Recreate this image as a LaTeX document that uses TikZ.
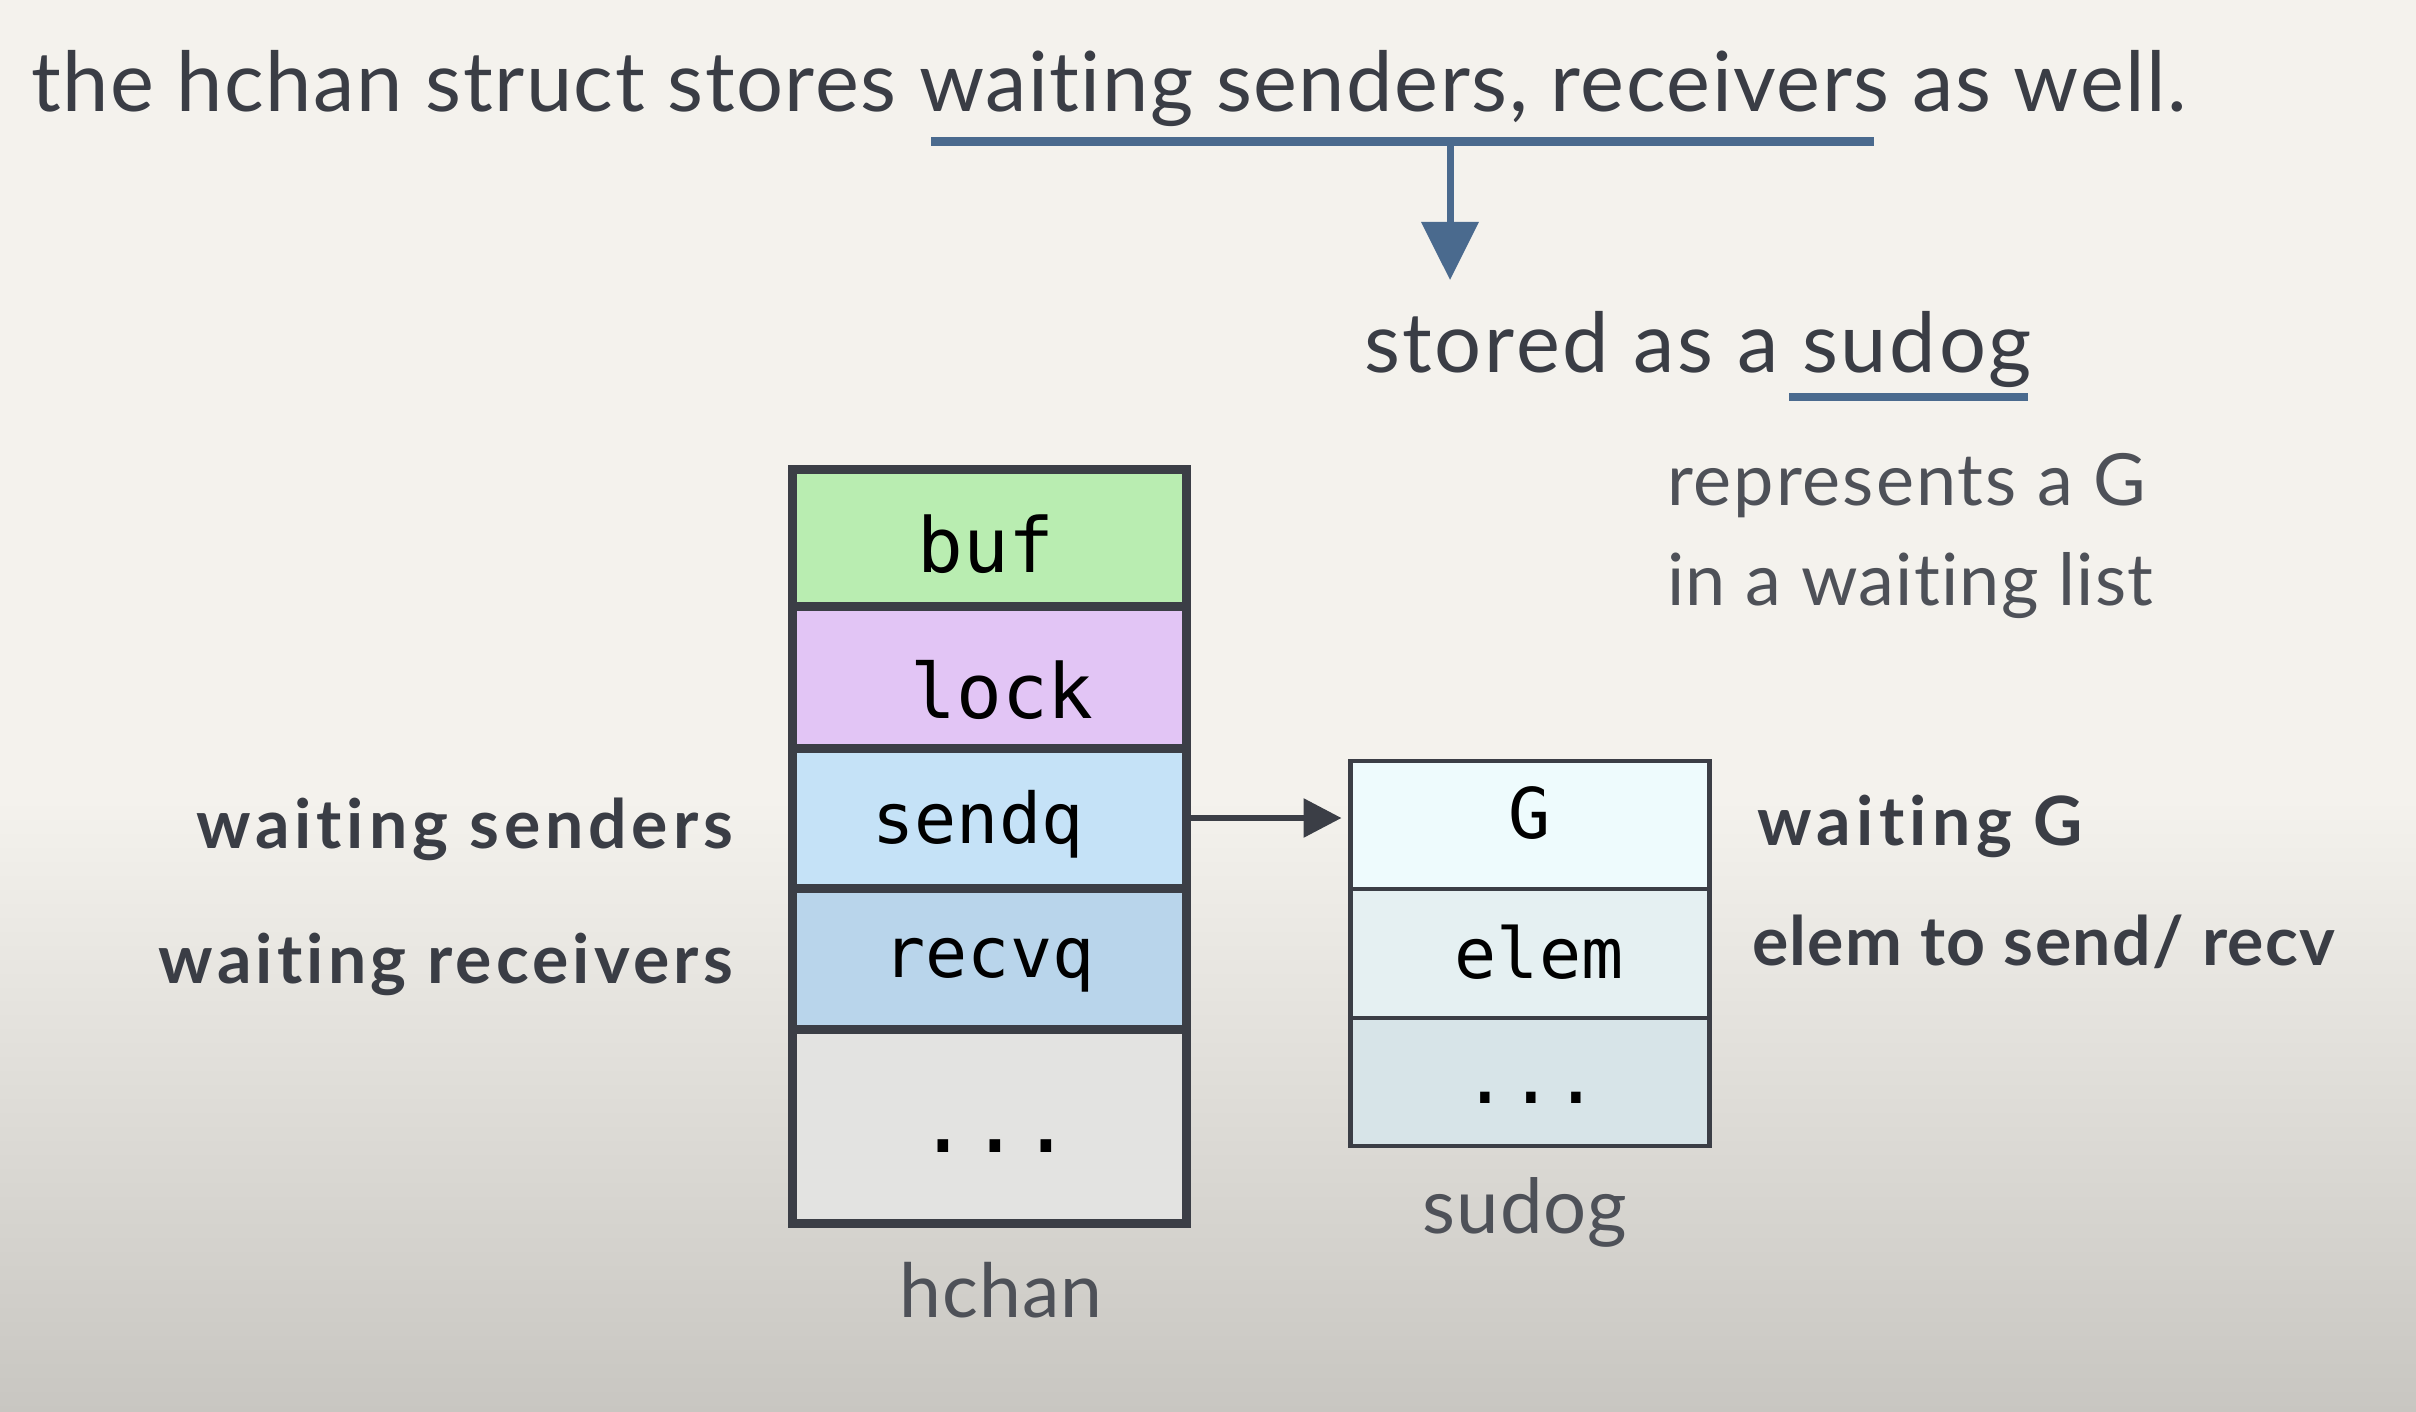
\documentclass[tikz,border=0pt]{standalone}
\usepackage{fontspec}
\setmainfont{Lato}[Ligatures=CommonOff]
\newfontfamily\monof{DejaVu Sans Mono}
\usetikzlibrary{arrows.meta}
\definecolor{bgtop}{HTML}{F4F2ED}
\definecolor{bgbot}{HTML}{C8C6C1}
\definecolor{ink}{HTML}{3A3D45}
\definecolor{softink}{HTML}{4E5158}
\definecolor{frame}{HTML}{3B3E46}
\definecolor{steel}{HTML}{4A6A8E}
\definecolor{bufc}{HTML}{B9EDB1}
\definecolor{lockc}{HTML}{E2C5F5}
\definecolor{sendc}{HTML}{C5E2F7}
\definecolor{recvc}{HTML}{B9D5EB}
\definecolor{restc}{HTML}{E3E3E1}
\definecolor{gc}{HTML}{EEFBFD}
\definecolor{elemc}{HTML}{E5F0F2}
\definecolor{sdotc}{HTML}{D7E4E8}
\newcommand{\lsp}[1]{\addfontfeature{LetterSpace=#1}}
\tikzset{
  hcell/.style={rectangle, draw=frame, line width=9pt, inner sep=0pt, outer sep=0pt, minimum width=394pt},
  scell/.style={rectangle, draw=frame, line width=4.5pt, inner sep=0pt, outer sep=0pt, minimum width=359pt},
  txt/.style={inner sep=0pt, outer sep=0pt, text=ink},
  monobig/.style={txt, font=\monof\fontsize{76}{80}\selectfont, text=black},
  monomid/.style={txt, font=\monof\fontsize{70}{74}\selectfont, text=black},
  boldlbl/.style={txt, font=\bfseries\fontsize{68}{80}\selectfont},
}
\begin{document}
\begin{tikzpicture}[x=1pt,y=-1pt]
\useasboundingbox (0,0) rectangle (2416,1412);
% background
\fill[bgtop] (0,0) rectangle (2416,800);
\shade[top color=bgtop, bottom color=bgbot] (0,799) rectangle (2416,1412);

% title
\node[txt, anchor=base west, font=\fontsize{83}{96}\selectfont\lsp{1.85}] (title) at (31,112)
  {the hchan struct stores waiting senders, receivers as well.};
\coordinate (ulL) at (931,142);
\coordinate (ulR) at (1874,142);
\coordinate (ulM) at (1450,142);
\coordinate (tip) at (1450,280);
\draw[steel, line width=9pt] (ulL) -- (ulR);
\draw[steel, line width=7pt, -{Triangle[length=58pt,width=56pt]}] (ulM) -- (tip);

\node[txt, anchor=base west, font=\fontsize{83}{96}\selectfont\lsp{3.3}] (stored) at (1364,372)
  {stored as a sudog};
\coordinate (suL) at (1789,397);
\coordinate (suR) at (2028,397);
\draw[steel, line width=8pt] (suL) -- (suR);

\node[txt, anchor=base west, text=softink, font=\fontsize{72}{84}\selectfont\lsp{2.8}] (rep1) at (1667,505) {represents a G};
\node[txt, anchor=base west, text=softink, font=\fontsize{72}{84}\selectfont\lsp{1.8}] (rep2) at (1667,605) {in a waiting list};

% hchan
\node[hcell, fill=bufc,  minimum height=137pt] (buf)   at (989,537.5) {};
\node[hcell, fill=lockc, minimum height=142pt] (lock)  at (989,677) {};
\node[hcell, fill=sendc, minimum height=140pt] (sendq) at (989,818) {};
\node[hcell, fill=recvc, minimum height=141pt] (recvq) at (989,958.5) {};
\node[hcell, fill=restc, minimum height=194pt] (rest)  at (989,1126) {};

\node[monobig, anchor=base] (buftxt)  at (986,572) {buf};
\node[monobig, anchor=base] (locktxt) at (1002,718) {lock};
\node[monomid, anchor=base] (sendtxt) at (978,843) {sendq};
\node[monomid, anchor=base] (recvtxt) at (989,977) {recvq};
\node[txt, anchor=base, text=black, font=\monof\fontsize{86}{90}\selectfont] (resttxt) at (995,1152) {...};

\node[txt, anchor=base, text=softink, font=\fontsize{75}{86}\selectfont\lsp{1.5}] (hchanlbl) at (1001,1317) {hchan};

% sudog
\node[scell, fill=gc,    minimum height=128pt] (G)    at (1530,825) {};
\node[scell, fill=elemc, minimum height=129pt] (elem) at (1530,953.5) {};
\node[scell, fill=sdotc, minimum height=128pt] (sdot) at (1530,1082) {};

\node[monomid, anchor=base] (gtxt)    at (1530,838) {G};
\node[monomid, anchor=base] (elemtxt) at (1539,978) {elem};
\node[txt, anchor=base, text=black, font=\monof\fontsize{76}{80}\selectfont] (sdottxt) at (1531,1103) {...};

\node[txt, anchor=base, text=softink, font=\fontsize{76}{86}\selectfont\lsp{1.5}] (sudoglbl) at (1525,1233) {sudog};

% arrow
\draw[frame, line width=6pt, -{Triangle[length=38pt,width=38pt]}, shorten >=9pt]
  (sendq.east) -- (sendq.east -| G.west);

% side labels
\node[boldlbl, anchor=base east] (wsend) at (733,848) {\lsp{7.1}waiting senders};
\node[boldlbl, anchor=base east] (wrecv) at (733,983) {\lsp{6.1}waiting receivers};
\node[boldlbl, anchor=base west] (wg) at (1757,845) {\lsp{7.9}waiting G};
\node[boldlbl, anchor=base west] (welem) at (1752,965) {\lsp{2}elem to send/ recv};
\end{tikzpicture}
\end{document}
